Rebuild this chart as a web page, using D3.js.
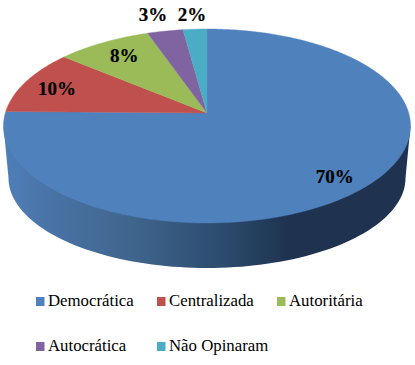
<!DOCTYPE html>
<html><head><meta charset="utf-8">
<script src="https://cdn.jsdelivr.net/npm/d3@7"></script>
<style>html,body{margin:0;padding:0;background:#fff}svg{display:block}</style>
</head><body><svg id="c" width="415" height="365"></svg>
<script>
const categories = ["Democrática","Centralizada","Autoritária","Autocrática","Não Opinaram"];
const values = [70,10,8,3,2];
const labels = ["70%","10%","8%","3%","2%"];
const colors = ["#4f81bd","#c0504d","#9bbb59","#8064a2","#4bacc6"];

const svg = d3.select("#c");
const font = "'Liberation Serif','Times New Roman',serif";
// perspective projection of the pie disc
const apex = {x:207,y:113}, persp = 0.134, sx = 201.7, sy = -80.1;
const project = (a,r)=>{
  const u = Math.sin(a)*r, v = Math.cos(a)*r, d = 1+persp*v;
  return [apex.x+sx*u/d, (sy*v+apex.y)/d];
};
const arcs = d3.pie().sort(null).value(d=>d)(values);
const line = d3.line();

// side wall
const defs = svg.append("defs");
const grad = defs.append("linearGradient").attr("id","side").attr("gradientUnits","userSpaceOnUse")
  .attr("x1",4).attr("x2",410).attr("y1",0).attr("y2",0);
[[0,"#4f7fb8"],[0.1,"#4a74a8"],[0.3,"#41678f"],[0.55,"#2b4a6c"],[0.7,"#1f3350"],[1,"#1f3350"]]
  .forEach(s=>grad.append("stop").attr("offset",s[0]).attr("stop-color",s[1]));
const wall = {cx:207, cy:178, rx:198.5, ry:90, topCy:126, topRx:203.5};
const rim = d3.range(0,181,2).map(t=>{const a=t*Math.PI/180;
  return [wall.cx-wall.rx*Math.cos(a), wall.cy+wall.ry*Math.sin(a)];});
svg.append("path")
  .attr("d",line([[wall.cx-wall.topRx,wall.topCy],...rim,[wall.cx+wall.topRx,wall.topCy]])+"Z")
  .attr("fill","url(#side)");

// top slices
svg.selectAll("path.slice").data(arcs).join("path").attr("class","slice")
  .attr("fill",(d,i)=>colors[i]).attr("stroke",(d,i)=>colors[i]).attr("stroke-width",0.4)
  .attr("d",d=>{
    const n = Math.max(4,Math.ceil((d.endAngle-d.startAngle)*60));
    const pts = d3.range(n+1).map(k=>project(d.startAngle+(d.endAngle-d.startAngle)*k/n,1));
    return line([[apex.x,apex.y],...pts])+"Z";
  });

// data labels
const labelRadius = [0.85,0.8,0.8,1.2,1.2];
const labelNudge = [[-3,1],[-4,2],[2,0],[-5,-2],[-1,0]];
svg.selectAll("text.lab").data(arcs).join("text").attr("class","lab")
  .attr("text-anchor","middle").attr("font-family",font).attr("font-weight","bold").attr("font-size",19).attr("fill","#000")
  .attr("stroke","#000").attr("stroke-width",0.2)
  .attr("x",(d,i)=>project((d.startAngle+d.endAngle)/2,labelRadius[i])[0]+labelNudge[i][0])
  .attr("y",(d,i)=>project((d.startAngle+d.endAngle)/2,labelRadius[i])[1]+6+labelNudge[i][1])
  .text((d,i)=>labels[i]);

// legend
const legendCols = [36,157,277], legendRows = [306,351];
const lg = svg.selectAll("g.lg").data(categories).join("g").attr("class","lg")
  .attr("transform",(d,i)=>`translate(${legendCols[i%3]},${legendRows[Math.floor(i/3)]})`);
lg.append("rect").attr("x",0).attr("y",-9).attr("width",8.5).attr("height",9).attr("fill",(d,i)=>colors[i]);
lg.append("text").attr("x",12).attr("y",0).attr("font-family",font).attr("font-size",16.8).attr("fill","#000").text(d=>d);
</script></body></html>
